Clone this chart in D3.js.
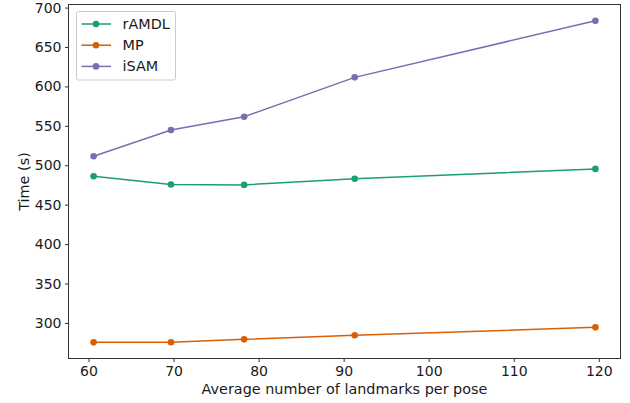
<!DOCTYPE html>
<html><head><meta charset="utf-8">
<script src="https://cdn.jsdelivr.net/npm/d3@7/dist/d3.min.js"></script>
<style>body{margin:0;background:#fff}svg{display:block}text{font-family:"DejaVu Sans",sans-serif;fill:#1a1a1a}</style>
</head><body><svg id="c" width="630" height="403"></svg>
<script>
const landmarks = [60.6, 69.7, 78.3, 91.3, 119.6];
const rAMDL = [486.1, 475.5, 475.1, 482.8, 495.4];
const MP = [275.4, 275.5, 279.2, 284.3, 294.4];
const iSAM = [511.4, 544.8, 561.6, 611.5, 683.2];
const seriesNames = ["rAMDL", "MP", "iSAM"];
const colors = ["#1b9e77", "#d95f02", "#7570b3"];
const xTicks = [60, 70, 80, 90, 100, 110, 120];
const yTicks = [300, 350, 400, 450, 500, 550, 600, 650, 700];

const svg = d3.select("#c");
const L = 68.5, R = 620.5, T = 4.5, B = 358.5;
const x = d3.scaleLinear().domain([57.65, 122.55]).range([L, R]);
const y = d3.scaleLinear().domain([254.9, 703.9]).range([B, T]);

const series = [rAMDL, MP, iSAM];

// frame
svg.append("rect").attr("x", L).attr("y", T).attr("width", R - L).attr("height", B - T)
  .attr("fill", "none").attr("stroke", "#333").attr("stroke-width", 1);

const gx = svg.append("g").attr("transform", `translate(0,${B})`)
  .call(d3.axisBottom(x).tickValues(xTicks).tickSize(3.5).tickPadding(4.5).tickFormat(d3.format("d")));
const gy = svg.append("g").attr("transform", `translate(${L},0)`)
  .call(d3.axisLeft(y).tickValues(yTicks).tickSize(3.5).tickPadding(3.5).tickFormat(d3.format("d")));
[gx, gy].forEach(g => {
  g.select(".domain").remove();
  g.selectAll("line").attr("stroke", "#333");
  g.selectAll("text").attr("font-size", 14).attr("font-family", "DejaVu Sans").attr("fill", "#1a1a1a");
});

svg.append("text").attr("x", (L + R) / 2).attr("y", 394).attr("text-anchor", "middle")
  .attr("font-size", 14.4).text("Average number of landmarks per pose");
svg.append("text").attr("transform", `translate(29,${(T + B) / 2}) rotate(-90)`)
  .attr("text-anchor", "middle").attr("font-size", 14.4).text("Time (s)");

const line = d3.line().x((d, i) => x(landmarks[i])).y(d => y(d));
series.forEach((s, k) => {
  svg.append("path").datum(s).attr("d", line).attr("fill", "none")
    .attr("stroke", colors[k]).attr("stroke-width", 1.5);
  svg.selectAll(null).data(s).enter().append("circle")
    .attr("cx", (d, i) => x(landmarks[i])).attr("cy", d => y(d)).attr("r", 3.3)
    .attr("fill", colors[k]);
});

// legend
const lg = svg.append("g");
lg.append("rect").attr("x", 76.5).attr("y", 11.5).attr("width", 99).attr("height", 68.5)
  .attr("rx", 2).attr("fill", "#fff").attr("fill-opacity", 0.8).attr("stroke", "#ccc");
seriesNames.forEach((n, k) => {
  const yy = 24 + k * 21.2;
  lg.append("line").attr("x1", 81.5).attr("x2", 111).attr("y1", yy).attr("y2", yy)
    .attr("stroke", colors[k]).attr("stroke-width", 1.5);
  lg.append("circle").attr("cx", 96).attr("cy", yy).attr("r", 3.3).attr("fill", colors[k]);
  lg.append("text").attr("x", 122.5).attr("y", yy).attr("dy", "0.35em").attr("font-size", 14.4).text(n);
});
</script></body></html>
